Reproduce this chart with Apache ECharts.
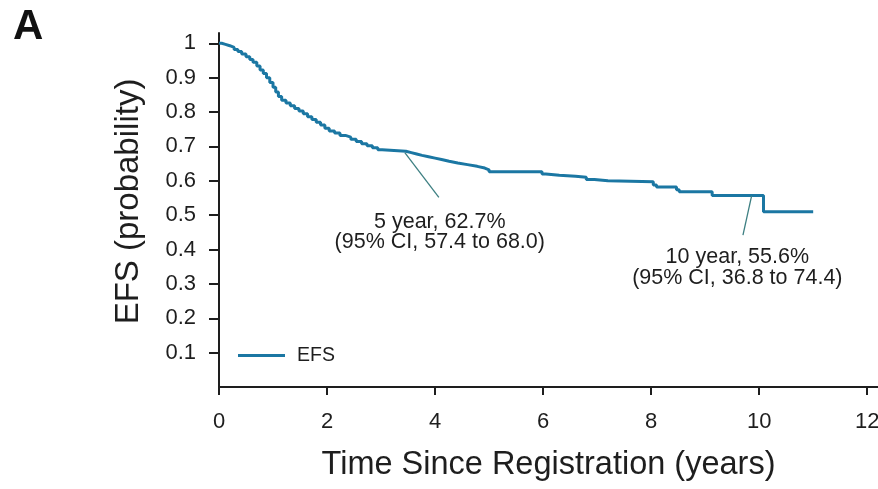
<!DOCTYPE html>
<html>
<head>
<meta charset="utf-8">
<script src="https://cdn.jsdelivr.net/npm/echarts@6/dist/echarts.min.js"></script>
<style>
html,body{margin:0;padding:0;background:#fff;}
#chart{width:878px;height:489px;}
</style>
</head>
<body>
<div id="chart"></div>
<script>
// ---- data ----
const seriesName = 'EFS';
const times = [0, 0.05, 0.12, 0.2, 0.28, 0.35, 0.42, 0.5, 0.57, 0.63, 0.7, 0.76, 0.82, 0.88, 0.94,
  1.0, 1.05, 1.1, 1.16, 1.24, 1.32, 1.4, 1.48, 1.56, 1.64, 1.72, 1.8, 1.88, 1.96,
  2.04, 2.14, 2.24, 2.34, 2.44, 2.54, 2.64, 2.74, 2.84, 2.94, 3.02,
  3.46, 3.56, 3.66, 3.76, 3.88, 4.0, 4.12, 4.26, 4.42, 4.6, 4.78, 4.92, 5.0,
  5.98, 6.05, 6.3, 6.6, 6.8, 6.95, 7.2, 8.04, 8.1, 8.47, 8.52, 9.13, 10.08, 11.0];
const survival = [1.0, 0.997, 0.993, 0.988, 0.982, 0.976, 0.969, 0.961, 0.953, 0.945, 0.934, 0.922, 0.912, 0.900, 0.886,
  0.872, 0.858, 0.845, 0.834, 0.826, 0.818, 0.810, 0.803, 0.795, 0.786, 0.778, 0.770, 0.762, 0.753,
  0.745, 0.739, 0.732, 0.727, 0.721, 0.714, 0.708, 0.702, 0.696, 0.690, 0.686,
  0.682, 0.678, 0.674, 0.670, 0.666, 0.662, 0.657, 0.652, 0.647, 0.642, 0.637, 0.632, 0.626,
  0.620, 0.616, 0.613, 0.610, 0.604, 0.600, 0.597, 0.588, 0.582, 0.574, 0.568, 0.557, 0.510, 0.510];
const xTicks = [0, 2, 4, 6, 8, 10, 12];
const yTicks = [0.1, 0.2, 0.3, 0.4, 0.5, 0.6, 0.7, 0.8, 0.9, 1];
const annotationTexts = ['5 year, 62.7%\n(95% CI, 57.4 to 68.0)', '10 year, 55.6%\n(95% CI, 36.8 to 74.4)'];
const annotationAnchors = [[4.087, 0.451], [9.596, 0.347]];
const leaderLines = [[[3.44, 0.682], [4.07, 0.552]], [[9.86, 0.556], [9.70, 0.442]]];
const xTitle = 'Time Since Registration (years)';
const yTitle = 'EFS (probability)';
const panelLetter = 'A';

// ---- chart ----
const curveColor = '#1b77a3';
const inkColor = '#1e1e1e';
const font = 'Liberation Sans, Arial, Helvetica, sans-serif';

const chart = echarts.init(document.getElementById('chart'), null, {renderer: 'canvas'});
const pts = times.map((t, i) => [t, survival[i]]);

chart.setOption({
  animation: false,
  backgroundColor: '#ffffff',
  textStyle: {fontFamily: font},
  title: {
    text: panelLetter, left: 13, top: 6, padding: 0,
    textStyle: {fontSize: 42, fontWeight: 'bold', color: '#111', fontFamily: font}
  },
  legend: {
    data: [seriesName], left: 238, top: 345.5, padding: 0,
    icon: 'rect', itemWidth: 47, itemHeight: 3,
    textStyle: {fontSize: 19.5, color: inkColor, fontFamily: font, padding: [0, 0, 0, 7]}
  },
  grid: {left: 219, top: 33, width: 659, height: 354, containLabel: false, outerBoundsMode: 'none'},
  xAxis: {
    type: 'value', min: 0, max: 12.2,
    name: xTitle, nameLocation: 'middle', nameGap: 62,
    nameTextStyle: {fontSize: 32.5, color: inkColor, fontFamily: font},
    axisLine: {show: true, onZero: false, lineStyle: {color: inkColor, width: 2}},
    axisTick: {show: true, inside: false, length: 8, customValues: xTicks, lineStyle: {color: inkColor, width: 2}},
    axisLabel: {customValues: xTicks, margin: 24, fontSize: 22, color: inkColor, fontFamily: font, hideOverlap: false},
    splitLine: {show: false}
  },
  yAxis: {
    type: 'value', min: 0, max: 1.03,
    name: yTitle, nameLocation: 'middle', nameGap: 74, nameRotate: 90,
    nameTextStyle: {fontSize: 33, color: inkColor, fontFamily: font, padding: [0, 0, 0, 17]},
    axisLine: {show: true, onZero: false, lineStyle: {color: inkColor, width: 2}},
    axisTick: {show: true, inside: false, length: 10, customValues: yTicks, lineStyle: {color: inkColor, width: 2}},
    axisLabel: {customValues: yTicks, margin: 23, fontSize: 22, color: inkColor, fontFamily: font,
      formatter: v => String(Math.round(v * 10) / 10)},
    splitLine: {show: false}
  },
  series: [{
    name: seriesName, type: 'line', step: 'end', data: pts,
    symbol: 'none', showSymbol: false,
    lineStyle: {color: curveColor, width: 3},
    itemStyle: {color: curveColor},
    emphasis: {disabled: true},
    markLine: {
      silent: true, symbol: ['none', 'none'],
      lineStyle: {color: '#3d7f82', width: 1.3, type: 'solid'},
      label: {show: false},
      emphasis: {disabled: true},
      data: leaderLines.map(l => [{coord: l[0]}, {coord: l[1]}])
    },
    markPoint: {
      silent: true, symbol: 'circle', symbolSize: 0,
      label: {show: true, position: 'inside', formatter: p => p.name,
        fontSize: 21.5, lineHeight: 20.5, color: inkColor, fontFamily: font, align: 'center'},
      itemStyle: {color: 'transparent'},
      data: annotationAnchors.map((c, i) => ({name: annotationTexts[i], coord: c}))
    }
  }]
});
</script>
</body>
</html>
